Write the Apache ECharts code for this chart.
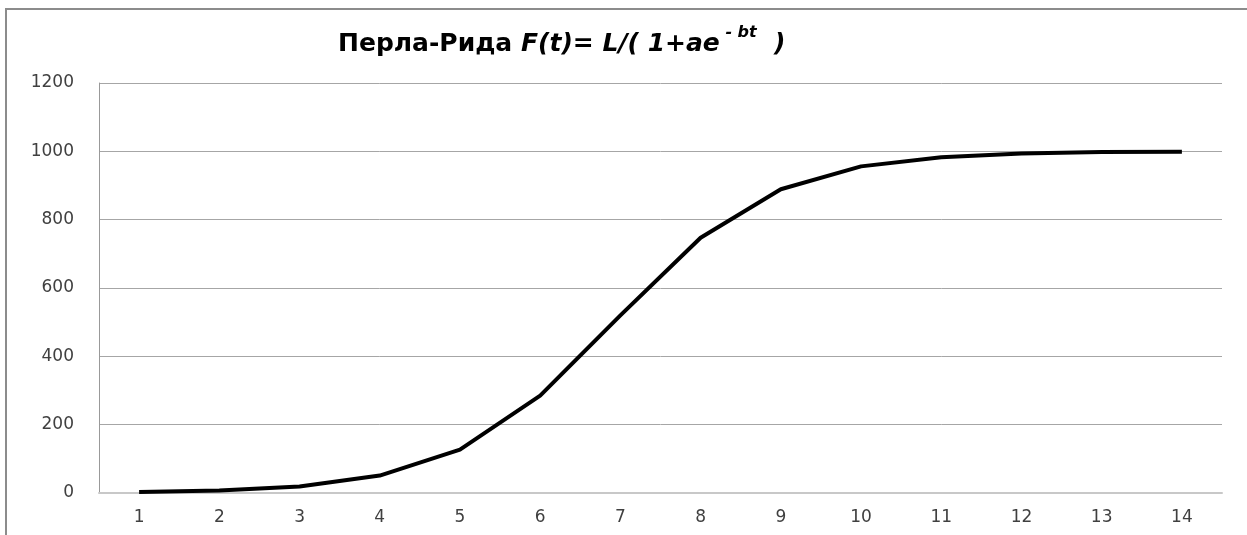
<!DOCTYPE html>
<html>
<head>
<meta charset="utf-8">
<script src="https://cdn.jsdelivr.net/npm/echarts@6/dist/echarts.min.js"></script>
<style>html,body{margin:0;padding:0;background:#fff}#c{width:1247px;height:535px}</style>
</head>
<body>
<div id="c"></div>
<script>
var categories = ['1','2','3','4','5','6','7','8','9','10','11','12','13','14'];
var values = [3, 7, 19, 51, 127, 285, 520, 747, 889, 956, 983, 994, 998, 999];
var yTicks = [0, 200, 400, 600, 800, 1000, 1200];

var TF = 'DejaVu Sans';
var chart = echarts.init(document.getElementById('c'), null, {renderer: 'canvas'});
chart.setOption({
  backgroundColor: '#fff',
  animation: false,
  title: {
    text: '{a|Перла-Рида }{b|F(t)= L/( 1+ae}{s| - bt}{c|  )}',
    left: 333,
    top: 20,
    textStyle: {
      rich: {
        a: {fontFamily: TF, fontWeight: 'bold', fontSize: 25, color: '#000', lineHeight: 32, verticalAlign: 'bottom'},
        b: {fontFamily: TF, fontWeight: 'bold', fontStyle: 'italic', fontSize: 25, color: '#000', lineHeight: 32, verticalAlign: 'bottom'},
        s: {fontFamily: TF, fontWeight: 'bold', fontStyle: 'italic', fontSize: 16, color: '#000', lineHeight: 32, verticalAlign: 'top'},
        c: {fontFamily: TF, fontWeight: 'bold', fontStyle: 'italic', fontSize: 25, color: '#000', lineHeight: 32, verticalAlign: 'bottom'}
      }
    }
  },
  graphic: [{
    type: 'rect',
    silent: true,
    shape: {x: 6, y: 9, width: 1400, height: 700},
    style: {fill: 'none', stroke: '#8c8c8c', lineWidth: 2}
  }],
  grid: {left: 99, right: 25, top: 83, bottom: 42, containLabel: false},
  xAxis: {
    type: 'category',
    data: categories,
    boundaryGap: true,
    axisLine: {show: true, lineStyle: {color: '#c8c8c8', width: 2}},
    axisTick: {show: false},
    axisLabel: {fontFamily: 'DejaVu Sans', fontSize: 17, color: '#404040', margin: 16}
  },
  yAxis: {
    type: 'value',
    min: 0,
    max: 1200,
    interval: 200,
    axisLine: {show: true, lineStyle: {color: '#999', width: 1}},
    axisTick: {show: false},
    axisLabel: {fontFamily: 'DejaVu Sans', fontSize: 17, color: '#404040', margin: 25,
      formatter: function (v) { return yTicks.indexOf(v) >= 0 ? String(v) : ''; }},
    splitLine: {show: true, lineStyle: {color: '#a6a6a6', width: 1}}
  },
  series: [{
    type: 'line',
    data: values,
    symbol: 'none',
    smooth: false,
    lineStyle: {color: '#000', width: 4},
    z: 5
  }]
});
</script>
</body>
</html>
